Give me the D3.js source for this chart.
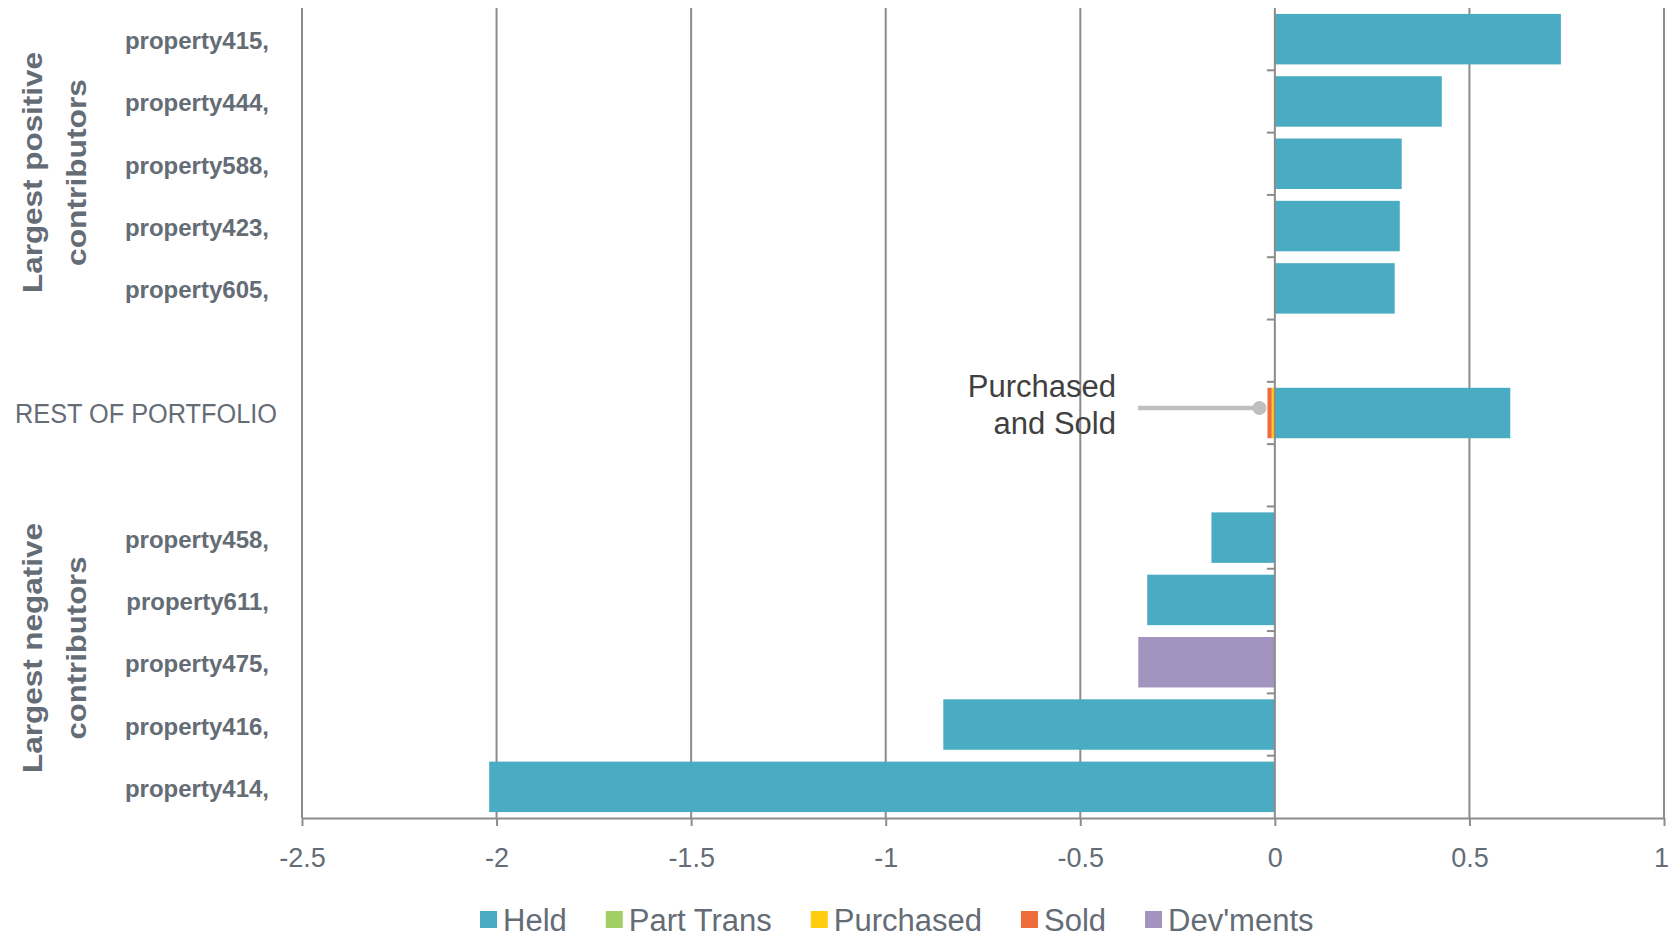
<!DOCTYPE html>
<html>
<head>
<meta charset="utf-8">
<script src="https://cdn.jsdelivr.net/npm/d3@7"></script>
<style>
  body { margin: 0; background: #fff; }
  text { font-family: "Liberation Sans", Arial, sans-serif; }
</style>
</head>
<body>
<div id="chart"></div>
<script>
// rows top to bottom, "" = empty slot between groups
const categories = ['property415,', 'property444,', 'property588,', 'property423,', 'property605,', '',
    'REST OF PORTFOLIO', '',
    'property458,', 'property611,', 'property475,', 'property416,', 'property414,'];
const held      = [0.735, 0.429, 0.326, 0.321, 0.308, 0, 0.605, 0, -0.163, -0.328, 0, -0.852, -2.019];
const partTrans = [0, 0, 0, 0, 0, 0, 0, 0, 0, 0, 0, 0, 0];
const purchased = [0, 0, 0, 0, 0, 0, -0.008, 0, 0, 0, 0, 0, 0];
const sold      = [0, 0, 0, 0, 0, 0, -0.011, 0, 0, 0, 0, 0, 0];
const devments  = [0, 0, 0, 0, 0, 0, 0, 0, 0, 0, -0.351, 0, 0];
const seriesNames = ['Held', 'Part Trans', 'Purchased', 'Sold', "Dev'ments"];
const seriesColors = ['#4aacc2', '#a0cf66', '#ffcc10', '#ee6c3a', '#a393bf'];
const xTicks = [-2.5, -2, -1.5, -1, -0.5, 0, 0.5, 1];

const width = 1670;
const height = 937;
const textColor = '#646c76';
const gridColor = '#8c8c8c';

const table = categories.map((c, i) => ({
    idx: i,
    'Held': held[i],
    'Part Trans': partTrans[i],
    'Purchased': purchased[i],
    'Sold': sold[i],
    "Dev'ments": devments[i]
}));

const svg = d3.select('#chart').append('svg')
    .attr('width', width)
    .attr('height', height);

const x = d3.scaleLinear()
    .domain([-2.5, 1])
    .range([302, 1664]);

const y = d3.scaleBand()
    .domain(d3.range(categories.length))
    .range([8, 818])
    .paddingInner(0.19)
    .paddingOuter(0.095);

const color = d3.scaleOrdinal().domain(seriesNames).range(seriesColors);

// vertical gridlines
svg.append('g')
    .selectAll('line')
    .data(xTicks.filter(d => d !== 0))
    .enter().append('line')
    .attr('x1', d => x(d)).attr('x2', d => x(d))
    .attr('y1', 8).attr('y2', 818)
    .attr('stroke', gridColor)
    .attr('stroke-width', 2);

// stacked bars
const stacked = d3.stack()
    .keys(seriesNames)
    .offset(d3.stackOffsetDiverging)(table);

svg.append('g')
    .selectAll('g')
    .data(stacked)
    .enter().append('g')
    .attr('fill', d => color(d.key))
    .selectAll('rect')
    .data(d => d.filter(s => s[1] - s[0] !== 0))
    .enter().append('rect')
    .attr('x', d => x(Math.min(d[0], d[1])))
    .attr('width', d => Math.abs(x(d[1]) - x(d[0])))
    .attr('y', d => y(d.data.idx))
    .attr('height', y.bandwidth());

// bottom axis
const xAxis = svg.append('g')
    .attr('transform', 'translate(0,818)')
    .call(d3.axisBottom(x).tickValues(xTicks).tickSize(8).tickSizeOuter(0).tickFormat(d => String(d)));
xAxis.select('.domain').attr('stroke', gridColor).attr('stroke-width', 2);
xAxis.selectAll('.tick line').attr('stroke', gridColor).attr('stroke-width', 2);
xAxis.selectAll('.tick text')
    .attr('y', 49)
    .attr('dy', null)
    .attr('x', d => d === 1 ? -3 : 0)
    .attr('fill', textColor)
    .style('font-size', '27px');

// category axis line at zero, on top of bars
const gap = (y.step() - y.bandwidth()) / 2;
svg.append('line')
    .attr('x1', x(0)).attr('x2', x(0))
    .attr('y1', 8).attr('y2', 818)
    .attr('stroke', gridColor)
    .attr('stroke-width', 2);
svg.append('g')
    .selectAll('line')
    .data(d3.range(1, categories.length))
    .enter().append('line')
    .attr('x1', x(0) - 8).attr('x2', x(0))
    .attr('y1', d => y(d) - gap).attr('y2', d => y(d) - gap)
    .attr('stroke', gridColor)
    .attr('stroke-width', 2);

// category labels
svg.append('g')
    .selectAll('text')
    .data(categories.map((c, i) => ({ c, i })).filter(d => d.c !== ''))
    .enter().append('text')
    .attr('x', d => d.c === 'REST OF PORTFOLIO' ? 277 : 269)
    .attr('y', d => y(d.i) + y.bandwidth() / 2 + 10)
    .attr('text-anchor', 'end')
    .attr('fill', textColor)
    .style('font-size', d => d.c === 'REST OF PORTFOLIO' ? '27px' : '24px')
    .style('font-weight', d => d.c === 'REST OF PORTFOLIO' ? 'normal' : 'bold')
    .attr('textLength', d => d.c === 'REST OF PORTFOLIO' ? 262 : null)
    .attr('lengthAdjust', 'spacingAndGlyphs')
    .text(d => d.c);

// group titles
const groups = [
    { lines: ['Largest positive', 'contributors'], lens: [241, 187], cy: 172.5 },
    { lines: ['Largest negative', 'contributors'], lens: [250, 183], cy: 648 }
];
groups.forEach(g => {
    g.lines.forEach((t, k) => {
        svg.append('text')
            .attr('transform', 'translate(' + (k === 0 ? 42 : 86) + ',' + g.cy + ') rotate(-90)')
            .attr('text-anchor', 'middle')
            .attr('fill', textColor)
            .style('font-size', '27px')
            .style('font-weight', 'bold')
            .attr('textLength', g.lens[k])
            .attr('lengthAdjust', 'spacingAndGlyphs')
            .text(t);
    });
});

// "Purchased and Sold" callout
const restIdx = categories.indexOf('REST OF PORTFOLIO');
const restMid = y(restIdx) + y.bandwidth() / 2;
const restLeft = x(purchased[restIdx] + sold[restIdx]);
svg.append('line')
    .attr('x1', 1138).attr('x2', restLeft - 8)
    .attr('y1', restMid - 5).attr('y2', restMid - 5)
    .attr('stroke', '#bfbfbf')
    .attr('stroke-width', 4.5);
svg.append('circle')
    .attr('cx', restLeft - 8)
    .attr('cy', restMid - 5)
    .attr('r', 7)
    .attr('fill', '#bfbfbf');
const note = svg.append('text')
    .attr('text-anchor', 'end')
    .attr('fill', '#404040')
    .style('font-size', '31px');
note.append('tspan').attr('x', 1116).attr('y', restMid - 16).text('Purchased');
note.append('tspan').attr('x', 1116).attr('y', restMid + 21).text('and Sold');

// legend
const legend = svg.append('g');
let lx = 480;
seriesNames.forEach(name => {
    legend.append('rect')
        .attr('x', lx).attr('y', 911)
        .attr('width', 17).attr('height', 17)
        .attr('fill', color(name));
    const t = legend.append('text')
        .attr('x', lx + 23).attr('y', 931)
        .attr('fill', textColor)
        .style('font-size', '31px')
        .text(name);
    lx += 23 + t.node().getComputedTextLength() + 39;
});
</script>
</body>
</html>
